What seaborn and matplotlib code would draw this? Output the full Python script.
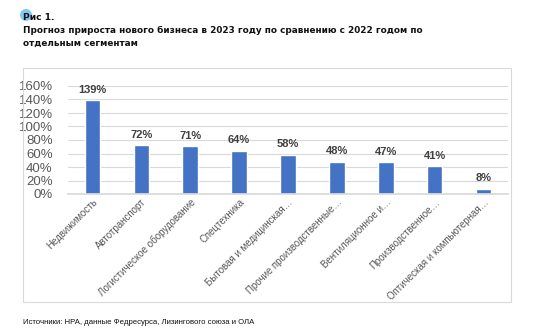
import matplotlib
matplotlib.use("Agg")
import matplotlib.pyplot as plt
import seaborn as sns
import pandas as pd
from matplotlib.patches import Rectangle, Ellipse

categories = ["Недвижимость", "Автотранспорт", "Логистическое оборудование", "Спецтехника",
              "Бытовая и медицинская…", "Прочие производственные…", "Вентиляционное и…",
              "Производственное…", "Оптическая и компьютерная…"]
values = [1.39, 0.72, 0.71, 0.64, 0.58, 0.48, 0.47, 0.41, 0.08]
value_labels = ["139%", "72%", "71%", "64%", "58%", "48%", "47%", "41%", "8%"]
yticks = [0, 0.2, 0.4, 0.6, 0.8, 1.0, 1.2, 1.4, 1.6]
ytick_labels = ["0%", "20%", "40%", "60%", "80%", "100%", "120%", "140%", "160%"]

sns.set_theme(style="white")
plt.rcParams['font.family'] = ['Liberation Sans', 'DejaVu Sans']

W, H = 541, 333
fig = plt.figure(figsize=(W / 100, H / 100), dpi=100)
ax = fig.add_axes([68 / W, 1 - 194 / H, 440 / W, 108 / H])

df = pd.DataFrame({"cat": categories, "val": values})
sns.barplot(data=df, x="cat", y="val", color="#4472C4", width=0.32, ax=ax, saturation=1)

ax.set_ylim(0, 1.6)
ax.set_xlim(-0.5, 8.5)
ax.set_yticks(yticks)
ax.set_yticklabels(ytick_labels, color="#595959", fontsize=9.5)
ax.yaxis.grid(True, color="#d9d9d9", linewidth=0.8)
ax.set_axisbelow(True)
for s in ["top", "right", "left"]:
    ax.spines[s].set_visible(False)
ax.spines["bottom"].set_color("#d9d9d9")
ax.tick_params(axis="y", length=0, pad=11)
ax.tick_params(axis="x", length=0, pad=2)
ax.set_xlabel("")
ax.set_ylabel("")
ax.set_xticks(range(len(categories)))
ax.set_xticklabels(categories, rotation=45, ha="right", rotation_mode="anchor",
                   color="#595959", fontsize=7)

for i, (v, lab) in enumerate(zip(values, value_labels)):
    ax.annotate(lab, (i, v), xytext=(0, 4), textcoords="offset points", ha="center",
                va="bottom", fontsize=8, fontweight="bold", color="#404040", annotation_clip=False)

# chart border
fig.patches.append(Rectangle((23 / W, 1 - 302 / H), 488 / W, 234 / H, transform=fig.transFigure,
                             fill=False, edgecolor="#d9d9d9", linewidth=0.8))
# blue dot
fig.patches.append(Ellipse((26 / W, 1 - 15 / H), 12 / W, 12 / H, transform=fig.transFigure,
                           facecolor="#6cbdf2", edgecolor="none", alpha=0.85, zorder=0))

fig.text(23 / W, 1 - 17 / H, "Рис 1.", fontsize=6.6, fontweight="bold", family=["DejaVu Sans"],
         color="#111111", va="center")
fig.text(23 / W, 1 - 30 / H, "Прогноз прироста нового бизнеса в 2023 году по сравнению с 2022 годом по",
         fontsize=6.4, fontweight="bold", family=["DejaVu Sans"], color="#111111", va="center")
fig.text(23 / W, 1 - 43 / H, "отдельным сегментам",
         fontsize=6.4, fontweight="bold", family=["DejaVu Sans"], color="#111111", va="center")
fig.text(23 / W, 1 - 322 / H, "Источники: НРА, данные Федресурса, Лизингового союза и ОЛА",
         fontsize=5.6, family=["Liberation Sans"], color="#111111", va="center")

fig.savefig("out.png", dpi=100)
